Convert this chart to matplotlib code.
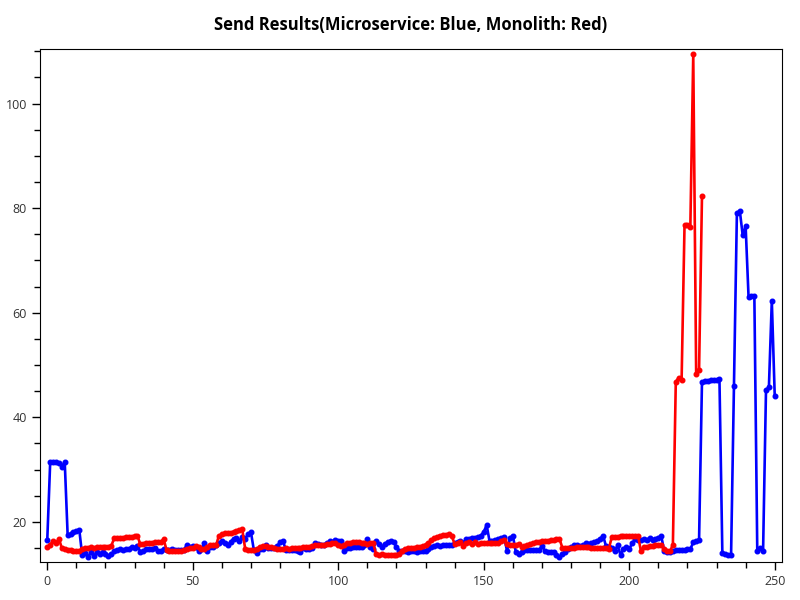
import numpy as np
import matplotlib
matplotlib.use("Agg")
import matplotlib.pyplot as plt

plt.rcParams['font.family'] = ['Open Sans', 'DejaVu Sans']

# send times, microservice (blue)
microservice = [
    16.6, 31.4, 31.4, 31.5, 31.2, 30.6, 31.5, 17.5, 17.6, 18.1, 18.3, 18.5,
    13.6, 14.0, 13.3, 14.2, 13.4, 14.3, 13.9, 14.3, 13.8, 13.5, 13.8, 14.4,
    14.6, 14.8, 14.7, 14.8, 14.9, 15.2, 15.0, 15.4, 14.3, 14.5, 14.8, 14.9,
    14.9, 15.0, 14.4,
    14.4, 14.9, 14.7, 14.6, 14.8, 14.6, 14.7, 14.6, 14.7, 15.6, 15.3, 15.4,
    15.3, 14.4, 14.9, 15.9, 14.4, 15.3, 15.3, 15.5, 15.9, 16.4, 15.9, 15.5,
    16.2, 16.8, 16.9, 16.4, 17.1, 16.8, 17.7, 18.0, 14.6, 14.0, 14.8, 14.9,
    15.5, 15.0, 15.1, 15.1,
    15.4, 16.1, 16.3, 14.7, 14.6, 14.7, 14.6, 14.5, 14.2, 15.0, 14.9, 14.9,
    15.0, 16.0, 15.8, 15.6, 15.5, 15.9, 16.3, 16.1, 16.6, 16.4, 16.3, 14.5,
    15.0, 15.0, 15.3, 15.2, 15.2, 15.3, 15.5, 16.75, 15.2, 14.9, 16.3, 15.7,
    15.2, 15.8, 16.2,
    16.4, 16.2, 15.2, 14.5, 14.4, 14.4, 14.3, 14.4, 14.4, 14.3, 14.4, 14.4,
    14.5, 14.9, 15.2, 15.4, 15.5, 15.4, 15.5, 15.5, 15.6, 15.6, 15.9, 16.2,
    16.4, 16.0, 16.8, 16.7, 16.9, 17.0, 17.1, 17.4, 18.1, 19.4, 16.3, 16.4,
    16.6, 16.8, 17.0, 17.1, 14.5, 16.9, 17.4, 14.3, 13.9,
    14.3, 14.6, 14.6, 14.7, 14.6, 14.7, 14.6, 15.4, 14.5, 14.3, 14.3, 14.2,
    13.7, 13.2, 13.9, 14.2, 14.8, 15.2, 15.5, 15.6, 15.4, 15.5, 15.9, 15.8,
    16.0, 16.2, 16.4, 16.75, 17.4, 15.4, 15.2, 15.0, 14.5, 15.5, 13.7, 14.8,
    15.3, 14.85, 15.9, 16.7, 16.5,
    16.6, 16.7, 16.6, 16.9, 16.5, 16.75, 17.0, 17.3, 14.5, 14.2, 14.3, 14.5,
    14.6, 14.6, 14.6, 14.7, 14.8, 14.8, 16.1, 16.4, 16.6,
    46.8, 47.0, 47.0, 47.1, 47.1, 47.2, 47.4, 14.0, 13.8, 13.7, 13.7, 45.9,
    79.1, 79.5, 74.8, 76.6, 63.1, 63.2, 63.2, 14.5, 15.0, 14.5, 45.2, 45.8,
    62.3, 44.1,
]

# send times, monolith (red)
monolith = [
    15.2, 15.6, 16.4, 16.0, 16.8, 15.0, 14.8, 14.7, 14.6, 14.5, 14.4, 14.5,
    14.8, 15.0, 15.1, 15.2, 15.1, 15.2, 15.3, 15.2, 15.3, 15.2, 15.4, 16.9,
    16.9, 17.0, 17.0, 17.1, 17.2, 17.2, 17.3, 17.3, 15.7, 15.8, 15.9, 16.0,
    16.0, 16.1, 16.2,
    16.2, 16.7, 14.6, 14.5, 14.4, 14.5, 14.4, 14.5, 14.6, 14.9, 15.0, 15.0,
    15.4, 15.2, 14.9, 14.8, 15.3, 15.5, 15.6, 15.5, 17.4, 17.6, 17.8, 17.9,
    17.9, 18.0, 18.2, 18.4, 18.6, 14.9, 14.6, 14.6, 14.7, 14.8, 15.3, 15.4,
    15.4, 15.3, 15.2, 15.0, 14.9, 14.9,
    14.9, 15.0, 14.9, 15.0, 15.0, 15.0, 15.1, 15.2, 15.2, 15.3, 15.4, 15.5,
    15.5, 15.6, 15.6, 15.7, 15.8, 15.9, 16.0, 15.5, 15.4, 15.6, 16.0, 16.0,
    16.1, 16.1, 16.2, 16.0, 16.0, 15.8, 15.9, 16.0, 13.8, 13.7, 13.8, 13.7,
    13.6, 13.6, 13.7, 13.7,
    13.9, 14.5, 14.9, 15.0, 15.1, 15.1, 15.2, 15.3, 15.4, 15.6, 15.9, 16.6,
    16.9, 17.2, 17.4, 17.5, 17.5, 17.6, 17.4, 15.7, 16.0, 16.2, 15.4, 16.0,
    16.2, 15.8, 16.2, 15.8, 15.9, 15.9, 16.0, 16.0, 15.9, 16.0, 16.0, 16.3,
    16.6, 15.7,
    15.6, 15.6, 15.5, 15.8, 15.3, 15.4, 15.6, 15.8, 15.9, 16.1, 16.2, 16.3,
    16.4, 16.4, 16.5, 16.6, 16.7, 16.8, 15.1, 15.0, 15.0, 15.1, 15.0, 15.3,
    15.3, 15.2, 15.3, 15.2, 15.1, 15.0, 15.0, 15.1, 15.0, 15.0, 14.9, 17.1,
    17.2, 17.2, 17.3, 17.3, 17.3, 17.3, 17.4, 17.4, 17.4, 14.5, 15.2, 15.3,
    15.4, 15.4, 15.5, 15.5, 15.6, 14.85, 14.5, 14.4, 15.6,
    46.8, 47.6, 47.2, 76.7, 76.8, 76.4, 109.4, 48.2, 49.1, 82.3,
]

title = "Send Results(Microservice: Blue, Monolith: Red)"

fig = plt.figure(figsize=(8, 6), dpi=100)
ax = fig.add_axes([0.05, 0.063, 0.9275, 0.855])

ax.plot(np.arange(len(microservice)), microservice, color='blue',
        linewidth=1.9, marker='o', markersize=3.3)
ax.plot(np.arange(len(monolith)), monolith, color='red',
        linewidth=1.9, marker='o', markersize=3.3)

ax.set_xlim(-2.5, 252.5)
ax.set_ylim(12.3, 110.4)
ax.set_xticks([0, 50, 100, 150, 200, 250])
ax.set_xticks(np.arange(0, 251, 10), minor=True)
ax.set_yticks([20, 40, 60, 80, 100])
ax.set_yticks(np.arange(15, 111, 5), minor=True)
ax.tick_params(which='major', length=6, width=1, labelsize=9, colors='black',
               labelcolor='#333333')
ax.tick_params(which='minor', length=4, width=1)

ax.set_title(title, fontsize=12, fontweight='bold', pad=14)

fig.savefig("out.png", dpi=100)
